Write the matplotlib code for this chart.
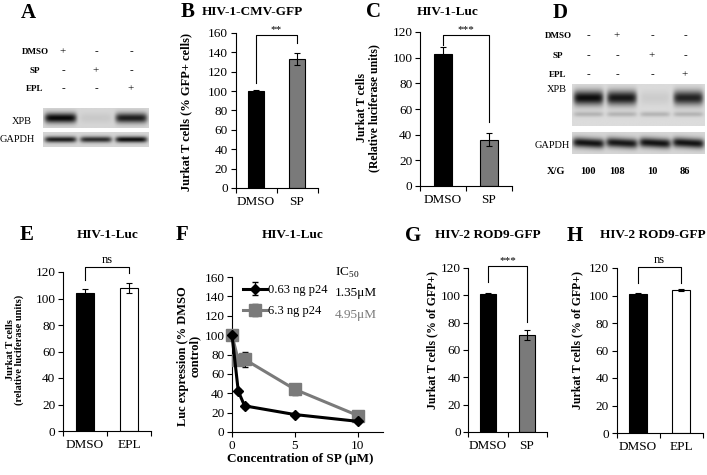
import numpy as np
import matplotlib
matplotlib.use("Agg")
import matplotlib.pyplot as plt

plt.rcParams['font.family'] = ['Liberation Serif', 'DejaVu Serif']
plt.rcParams['mathtext.fontset'] = 'custom'
plt.rcParams['mathtext.rm'] = 'Liberation Serif'

# ---------------- data ----------------
# Panel A western blot
blotA_rows = ["DMSO", "SP", "EPL"]
blotA_signs = [["+", "-", "-"], ["-", "+", "-"], ["-", "-", "+"]]
blotA_xpb = [0.95, 0.06, 0.85]
blotA_gapdh = [0.85, 0.78, 0.92]

# Panel B
B_cats = ["DMSO", "SP"]
B_vals = [100, 133]
B_errs = [1.5, 6]
# Panel C
C_cats = ["DMSO", "SP"]
C_vals = [103, 36]
C_errs = [5, 5]
# Panel D western blot
blotD_rows = ["DMSO", "SP", "EPL"]
blotD_signs = [["-", "+", "-", "-"], ["-", "-", "+", "-"], ["-", "-", "-", "+"]]
blotD_xpb = [0.95, 0.9, 0.07, 0.85]
blotD_gapdh = [0.9, 0.88, 0.9, 0.9]
blotD_ratio = [100, 108, 10, 86]
# Panel E
E_cats = ["DMSO", "EPL"]
E_vals = [104, 108]
E_errs = [3, 3.5]
# Panel F
F_conc = [0, 0.5, 1, 5, 10]
F_low = [100, 42, 27, 18, 11]
F_low_err = [0, 2, 2, 1.5, 1.5]
F_high = [100, 74, 75, 44, 17]
F_high_err = [0, 4, 8, 6, 2]
F_labels = ["0.63 ng p24", "6.3 ng p24"]
F_ic50 = ["1.35μM", "4.95μM"]
# Panel G
G_cats = ["DMSO", "SP"]
G_vals = [101, 71]
G_errs = [0.6, 3.5]
# Panel H
H_cats = ["DMSO", "EPL"]
H_vals = [101, 104]
H_errs = [0.7, 1.0]

W, H = 707, 475
fig = plt.figure(figsize=(W / 100, H / 100), dpi=100)

def rect(x0, x1, ytop, ybot):
    return [x0 / W, 1 - ybot / H, (x1 - x0) / W, (ybot - ytop) / H]

def ftext(x, y, s, **kw):
    fig.text(x / W, 1 - y / H, s, **kw)

BLACK = '#000000'
GRAY = '#7a7a7a'
TICKFS = 9.5

def bar_panel(box, cats, vals, errs, colors, ymax, step, bracket, stars):
    ax = fig.add_axes(rect(*box))
    xs = np.arange(1, len(vals) + 1)
    ax.bar(xs, vals, width=0.41, color=colors, edgecolor='black', linewidth=0.8,
           yerr=errs, capsize=2.5, error_kw=dict(elinewidth=0.8, capthick=0.8, ecolor='black'))
    ax.set_xlim(0.5, len(vals) + 0.5)
    ax.set_ylim(0, ymax)
    ax.set_yticks(np.arange(0, ymax + 1, step))
    ax.set_xticks([0.5, 1.5, 2.5])
    ax.set_xticklabels([])
    ax.set_xticks(xs, minor=True)
    ax.set_xticklabels(cats, minor=True)
    ax.tick_params(axis='x', which='minor', length=0, pad=6, labelsize=TICKFS)
    ax.tick_params(axis='x', which='major', length=3.5, width=0.8, direction='out')
    ax.tick_params(axis='y', length=3.5, width=0.8, labelsize=TICKFS, pad=2)
    for s in ['top', 'right']:
        ax.spines[s].set_visible(False)
    for s in ['left', 'bottom']:
        ax.spines[s].set_linewidth(0.8)
    yl, yt, yr = bracket
    ax.plot([1, 1, 2, 2], [yl, yt, yt, yr], color='black', lw=0.8, clip_on=False)
    ax.text(1.5, yt + ymax * 0.005, stars, ha='center', va='bottom', fontsize=9 if stars == 'ns' else 8,
            clip_on=False)
    return ax

def blot_image(ax, intensities, width_frac=0.8, yc=0.5, sig=0.18, bg=0.86, faint=None, wave=0.0):
    n = len(intensities)
    hh, ww = 60, 300
    yy, xx = np.mgrid[0:hh, 0:ww]
    xn = (xx + 0.5) / ww * n
    yn = (yy + 0.5) / hh
    dark = np.zeros((hh, ww))
    for i, v in enumerate(intensities):
        cx = i + 0.5
        hx = np.exp(-((xn - cx) / (width_frac / 2)) ** 8)
        off = wave * np.sin((xn - cx) * 3)
        vy = np.exp(-((yn - yc - off) / sig) ** 2)
        dark += v * hx * vy
        if faint is not None:
            vy2 = np.exp(-((yn - faint[0]) / 0.06) ** 2)
            dark += faint[1] * hx * vy2
    img = np.clip(bg - dark * 0.85, 0, 1)
    ax.imshow(img, cmap='gray', vmin=0, vmax=1, aspect='auto', extent=(0, n, 1, 0),
              interpolation='bilinear')
    ax.set_xticks([]); ax.set_yticks([])
    for s in ax.spines.values():
        s.set_visible(False)

# ---------------- Panel letters / titles ----------------
LET = dict(fontsize=15, fontweight='bold', ha='center', va='center')
TIT = dict(fontsize=9.5, fontweight='bold', ha='center', va='center')
ftext(28, 13, 'A', **LET)
ftext(188, 12, 'B', **LET); ftext(252, 12, 'HIV-1-CMV-GFP', **TIT)
ftext(374, 12, 'C', **LET); ftext(448, 12, 'HIV-1-Luc', **TIT)
ftext(560, 13, 'D', **LET)
ftext(27, 235, 'E', **LET); ftext(108, 235, 'HIV-1-Luc', **TIT)
ftext(182, 235, 'F', **LET); ftext(293, 235, 'HIV-1-Luc', **TIT)
ftext(413, 236, 'G', **LET); ftext(488, 235, 'HIV-2 ROD9-GFP', **TIT)
ftext(575, 236, 'H', **LET); ftext(653, 235, 'HIV-2 ROD9-GFP', **TIT)

# ---------------- Panel A ----------------
SML = dict(fontsize=6.5, fontweight='bold', ha='center', va='center')
colsA = [63, 96, 131]
rowsA = [52, 71, 89]
for r, name in enumerate(blotA_rows):
    ftext(35, rowsA[r], name, **SML)
    for c, s in enumerate(blotA_signs[r]):
        ftext(colsA[c], rowsA[r], s, fontsize=8, ha='center', va='center')
axA1 = fig.add_axes(rect(43, 149, 108, 128))
blot_image(axA1, blotA_xpb, width_frac=0.9, yc=0.5, sig=0.25, bg=0.84)
axA2 = fig.add_axes(rect(43, 149, 132, 147))
blot_image(axA2, blotA_gapdh, width_frac=0.9, yc=0.5, sig=0.2, bg=0.84)
ftext(22, 121, 'XPB', fontsize=7.5, ha='center', va='center')
ftext(17, 140, 'GAPDH', fontsize=7.5, ha='center', va='center')

# ---------------- Panel B ----------------
bar_panel((235.5, 317.5, 33, 188), B_cats, B_vals, B_errs, [BLACK, GRAY], 160, 20,
          (108, 158, 150), '**')
ftext(186, 112, 'Jurkat T cells (% GFP+ cells)', fontsize=9, fontweight='bold',
      rotation=90, ha='center', va='center')

# ---------------- Panel C ----------------
bar_panel((420, 512, 32, 186), C_cats, C_vals, C_errs, [BLACK, GRAY], 120, 20,
          (110, 118, 50), '***')
ftext(368, 108, 'Jurkat T cells\n(Relative luciferase units)', fontsize=8.5, fontweight='bold',
      rotation=90, ha='center', va='center', linespacing=1.0)

# ---------------- Panel D ----------------
colsD = [588, 617, 652, 685]
rowsD = [36, 56, 75]
for r, name in enumerate(blotD_rows):
    ftext(558, rowsD[r], name, **SML)
    for c, s in enumerate(blotD_signs[r]):
        ftext(colsD[c], rowsD[r], s, fontsize=8, ha='center', va='center')
axD1 = fig.add_axes(rect(572, 705, 84, 126))
blot_image(axD1, blotD_xpb, width_frac=0.9, yc=0.33, sig=0.17, bg=0.86, faint=(0.72, 0.18))
axD2 = fig.add_axes(rect(572, 705, 132, 154))
blot_image(axD2, blotD_gapdh, width_frac=0.95, yc=0.5, sig=0.22, bg=0.84, wave=0.03)
ftext(557, 90, 'XPB', fontsize=7.5, ha='center', va='center')
ftext(552, 146, 'GAPDH', fontsize=7.5, ha='center', va='center')
ftext(556, 171, 'X/G', fontsize=7.5, fontweight='bold', ha='center', va='center')
for c, v in enumerate(blotD_ratio):
    ftext(colsD[c], 171, str(v), fontsize=7.5, fontweight='bold', ha='center', va='center')

# ---------------- Panel E ----------------
bar_panel((63, 151, 272, 431), E_cats, E_vals, E_errs, [BLACK, 'white'], 120, 20,
          (114, 124, 119), 'ns')
ftext(15, 350, 'Jurkat T cells\n(relative luciferase units)', fontsize=7.5, fontweight='bold',
      rotation=90, ha='center', va='center', linespacing=1.0)

# ---------------- Panel F ----------------
axF = fig.add_axes(rect(232, 383, 277, 432))
axF.errorbar(F_conc, F_high, yerr=F_high_err, color=GRAY, lw=2.2, marker='s', ms=8,
             mfc=GRAY, mec=GRAY, capsize=2.5, elinewidth=0.8, ecolor='black',
             clip_on=False, zorder=3, label=F_labels[1])
axF.errorbar(F_conc, F_low, yerr=F_low_err, color=BLACK, lw=2.2, marker='D', ms=5,
             mfc=BLACK, mec=BLACK, capsize=2, elinewidth=0.8, ecolor='black',
             clip_on=False, zorder=4, label=F_labels[0])
axF.set_xlim(0, 12)
axF.set_ylim(0, 160)
axF.set_xticks([0, 5, 10])
axF.set_yticks(np.arange(0, 161, 20))
axF.tick_params(axis='both', length=3.5, width=0.8, labelsize=TICKFS, pad=2)
axF.tick_params(axis='x', pad=2.5)
for s in ['top', 'right']:
    axF.spines[s].set_visible(False)
for s in ['left', 'bottom']:
    axF.spines[s].set_linewidth(0.8)
h, l = axF.get_legend_handles_labels()
leg = axF.legend([h[1], h[0]], [l[1], l[0]], frameon=False, fontsize=9,
                 loc='upper left', bbox_to_anchor=(243 / W, 1 - 284 / H),
                 bbox_transform=fig.transFigure, handlelength=1.9, handletextpad=0.1,
                 labelspacing=0.75, borderpad=0, borderaxespad=0)
ftext(335, 273, 'IC$_{50}$', fontsize=9.5, ha='left', va='center')
ftext(335, 293, F_ic50[0], fontsize=9.5, ha='left', va='center', color=BLACK)
ftext(335, 315, F_ic50[1], fontsize=9.5, ha='left', va='center', color=GRAY)
ftext(300, 459, 'Concentration of SP (μM)', fontsize=9.5, fontweight='bold',
      ha='center', va='center')
ftext(189, 356, 'Luc expression (% DMSO\ncontrol)', fontsize=9, fontweight='bold',
      rotation=90, ha='center', va='center', linespacing=1.0)

# ---------------- Panel G ----------------
bar_panel((468.5, 546.5, 268, 432), G_cats, G_vals, G_errs, [BLACK, GRAY], 120, 20,
          (110, 121.7, 80.7), '***')
ftext(432, 340, 'Jurkat T cells (% of GFP+)', fontsize=8.5, fontweight='bold',
      rotation=90, ha='center', va='center')

# ---------------- Panel H ----------------
bar_panel((616.5, 702.5, 268, 433), H_cats, H_vals, H_errs, [BLACK, 'white'], 120, 20,
          (109, 121, 109), 'ns')
ftext(577, 340, 'Jurkat T cells (% of GFP+)', fontsize=8.5, fontweight='bold',
      rotation=90, ha='center', va='center')

fig.savefig('out.png', dpi=100)
